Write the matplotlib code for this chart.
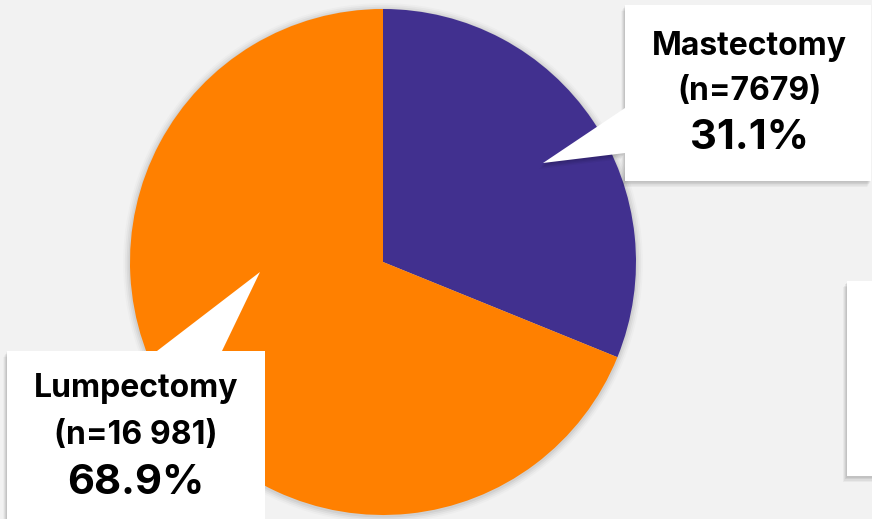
import matplotlib.pyplot as plt
from matplotlib.patches import Polygon, Circle

# surgery type counts
labels = ['Mastectomy', 'Lumpectomy']
counts = [7679, 16981]
colors = ['#41308f', '#ff8000']

W, H = 872, 519
BG = '#f2f2f2'


def fmt_n(n):
    # four-digit numbers without separator, larger ones with a space
    if n < 10000:
        return str(n)
    return f'{n:,}'.replace(',', ' ')


def py(y):
    # pixel row (top origin) -> axes y
    return H - y


def callout(ax, pts, z=5):
    pts = [(x, py(y)) for x, y in pts]
    # soft drop shadow
    for i, a in enumerate([0.06, 0.06, 0.05, 0.04]):
        d = 1.5 + i * 1.5
        sh = [(x - d * 0.6, y - d) for x, y in pts]
        ax.add_patch(Polygon(sh, closed=True, fc='black', ec='none',
                             alpha=a, zorder=z - 1))
    ax.add_patch(Polygon(pts, closed=True, fc='white', ec='none', zorder=z))


fig = plt.figure(figsize=(W / 100, H / 100), dpi=100)
fig.patch.set_facecolor(BG)
ax = fig.add_axes([0, 0, 1, 1])
ax.set_facecolor(BG)

cx, cy, r = 383, py(262), 253

# faint shadow ring around the pie
for i, a in enumerate([0.05, 0.04, 0.03, 0.02]):
    ax.add_patch(Circle((cx, cy - 1), r + 1.5 + i * 1.8, fc='black',
                        ec='none', alpha=a, zorder=0))

ax.pie(counts, colors=colors, startangle=90, counterclock=False,
       center=(cx, cy), radius=r, wedgeprops=dict(linewidth=0),
       frame=True)

# Mastectomy callout box with pointer on the left side
callout(ax, [(625, 5), (871, 5), (871, 181), (625, 181),
             (625, 153), (543, 163), (625, 108)])
# Lumpectomy callout box with pointer on the top
callout(ax, [(7, 351), (157, 351), (260, 272), (222, 351),
             (265, 351), (265, 530), (7, 530)])
# empty box on the right edge
callout(ax, [(847, 281), (880, 281), (880, 476), (847, 476)])

total = sum(counts)
font = ['Inter', 'DejaVu Sans']
boxes = {'Mastectomy': (749, [47, 92, 138]),
         'Lumpectomy': (136, [389, 436, 483])}
for lab, n in zip(labels, counts):
    x, ys = boxes[lab]
    ax.text(x, py(ys[0]), lab, ha='center', va='center', fontsize=23,
            fontweight='bold', family=font, zorder=10)
    ax.text(x, py(ys[1]), f'(n={fmt_n(n)})', ha='center', va='center',
            fontsize=23, fontweight='bold', family=font, zorder=10)
    ax.text(x, py(ys[2]), f'{n / total * 100:.1f}%', ha='center',
            va='center', fontsize=30, fontweight='bold', family=font,
            zorder=10)

ax.set_xlim(0, W)
ax.set_ylim(0, H)
ax.set_aspect('auto')
ax.axis('off')

fig.savefig('out.png', dpi=100, facecolor=BG)
